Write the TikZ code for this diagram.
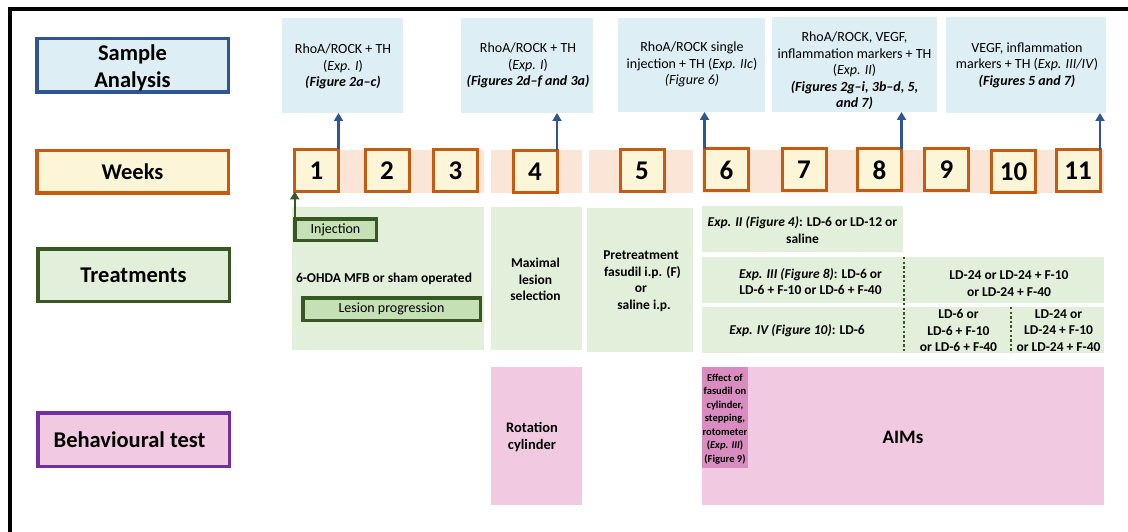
\documentclass[tikz,border=0pt]{standalone}
\usepackage{fontspec}
\setmainfont{Carlito}
\usetikzlibrary{arrows.meta}
\definecolor{sablue}{HTML}{DEEEF5}
\definecolor{bborder}{HTML}{2F5597}
\definecolor{orng}{HTML}{C55A11}
\definecolor{wyel}{HTML}{FDF5D8}
\definecolor{band}{HTML}{FBE5D6}
\definecolor{lgreen}{HTML}{E2EFDA}
\definecolor{dgreen}{HTML}{385723}
\definecolor{mgreen}{HTML}{C5E0B4}
\definecolor{lpink}{HTML}{F1C9E1}
\definecolor{dpink}{HTML}{D98CBF}
\definecolor{purp}{HTML}{7030A0}
\newcommand\myfs[2]{\fontsize{#1}{#2}\selectfont}
\begin{document}
\begin{tikzpicture}[x=1pt,y=-1pt,
  every node/.style={inner sep=0pt, outer sep=0pt},
  hdr/.style={draw, line width=3.5pt, align=center, font=\myfs{22.5}{27}\bfseries},
  sbox/.style={fill=sablue},
  wk/.style={draw=orng, fill=wyel, line width=3pt, minimum width=44pt, minimum height=42pt, font=\myfs{27}{30}\bfseries},
  bandbox/.style={fill=band, minimum height=43pt},
  gbox/.style={fill=lgreen},
  pbox/.style={fill=lpink},
  txt/.style={align=center, font=\myfs{14}{16.5}},
  btxt/.style={align=center, font=\myfs{13.5}{16.5}\bfseries},
  tag/.style={draw=dgreen, fill=mgreen, line width=3.5pt, font=\myfs{14}{16}},
  barrow/.style={draw=bborder, line width=2.6pt, -{Triangle[width=9pt,length=8pt]}},
  garrow/.style={draw=dgreen, line width=2.4pt, -{Triangle[width=9pt,length=8pt]}},
  dotl/.style={draw=dgreen, line width=2.8pt, dash pattern=on 2.4pt off 2.2pt}
]
\useasboundingbox (0,0) rectangle (1128,532);
\fill[white] (0,0) rectangle (1128,532);
\draw[line width=3.5pt] (10,532) -- (10,9) -- (1128,9);

% left headers
\node[hdr, draw=bborder, fill=sablue, minimum width=191.5pt, minimum height=53.5pt] (hSA) at (132.5,65.5) {};
\node[align=center, font=\myfs{22.5}{27}\bfseries] (hSAt) at (132.5,67.5) {Sample\\Analysis};
\node[hdr, draw=orng, fill=wyel, minimum width=191.5pt, minimum height=42.5pt] (hW) at (132.5,172) {Weeks};
\node[hdr, draw=dgreen, fill=lgreen, minimum width=191.5pt, minimum height=52.5pt] (hT) at (133.5,275) {Treatments};
\node[hdr, draw=purp, fill=lpink, minimum width=191.5pt, minimum height=53.5pt] (hB) at (133.5,439.5) {};
\node[font=\myfs{22.5}{27}\bfseries] (hBt) at (129.5,440) {Behavioural test};

% sample analysis boxes
\node[sbox, minimum width=121pt, minimum height=95pt] (s1) at (342.5,65.5) {};
\node[sbox, minimum width=132pt, minimum height=95pt] (s2) at (527,65.5) {};
\node[sbox, minimum width=147pt, minimum height=94pt] (s3) at (691.5,65) {};
\node[sbox, minimum width=165pt, minimum height=95pt] (s4) at (854.5,64.5) {};
\node[sbox, minimum width=160pt, minimum height=96pt] (s5) at (1026,65) {};
\node[txt] (s1t) at (343,66.5) {RhoA/ROCK + TH\\(\textit{Exp. I})\\\textbf{\textit{(Figure 2a--c)}}};
\node[txt] (s2t) at (528,65.5) {RhoA/ROCK + TH\\(\textit{Exp. I})\\\textbf{\textit{(Figures 2d--f and 3a)}}};
\node[txt] (s3t) at (692,64.5) {RhoA/ROCK single\\injection + TH (\textit{Exp. IIc})\\\textit{(Figure 6)}};
\node[txt] (s4t) at (854.5,71) {RhoA/ROCK, VEGF,\\inflammation markers + TH\\(\textit{Exp. II})\\\textbf{\textit{(Figures 2g--i, 3b--d, 5,}}\\\textbf{\textit{and 7)}}};
\node[txt] (s5t) at (1027,65) {VEGF, inflammation\\markers + TH (\textit{Exp. III/IV})\\\textbf{\textit{(Figures 5 and 7)}}};

% week band
\node[bandbox, minimum width=191pt] (b1) at (388.5,171.5) {};
\node[bandbox, minimum width=91pt] (b2) at (536.5,171.5) {};
\node[bandbox, minimum width=104pt] (b3) at (641,171.5) {};
\node[bandbox, minimum width=402pt] (b4) at (903,171.5) {};

% week boxes
\node[wk] (w1) at (316.5,170.5) {1};
\node[wk] (w2) at (387,171) {2};
\node[wk] (w3) at (455.5,170.5) {3};
\node[wk] (w4) at (535,171.5) {4};
\node[wk] (w5) at (642,170.5) {5};
\node[wk] (w6) at (726.5,170) {6};
\node[wk] (w7) at (804,169.5) {7};
\node[wk] (w8) at (879.5,170) {8};
\node[wk] (w9) at (946.5,170) {9};
\node[wk] (w10) at (1013.5,171.5) {10};
\node[wk] (w11) at (1078,171) {11};

% arrows to sample analysis
\draw[barrow] (w1.north east) -- (w1.north east |- s1.south);
\draw[barrow] (w4.north east) -- (w4.north east |- s2.south);
\draw[barrow] (w6.north west) -- (w6.north west |- s3.south);
\draw[barrow] (w8.north east) -- (w8.north east |- s4.south);
\draw[barrow] (w11.north east) -- (w11.north east |- s5.south);

% treatments
\node[gbox, minimum width=192pt, minimum height=143pt] (t1) at (388,278.5) {};
\node[gbox, minimum width=91pt, minimum height=143pt] (t2) at (536.5,278.5) {};
\node[gbox, minimum width=106pt, minimum height=144pt] (t3) at (640,280) {};
\node[gbox, minimum width=201pt, minimum height=46pt] (e2) at (802.5,229) {};
\node[gbox, minimum width=402pt, minimum height=46pt] (e3) at (903,280) {};
\node[gbox, minimum width=402pt, minimum height=46pt] (e4) at (903,330) {};

\node[tag, minimum width=81.5pt, minimum height=21.5pt] (inj) at (335.5,229.5) {Injection};
\node[tag, minimum width=177.5pt, minimum height=22.5pt] (les) at (391.5,309) {Lesion progression};
\draw[garrow] (inj.north west) -- (inj.north west |- w1.south);

\node[btxt] (t1t) at (384,279) {6-OHDA MFB or sham operated};
\node[btxt] (t2t) at (535.5,279.5) {Maximal\\lesion\\selection};
\node[btxt] (t3t) at (641,281) {Pretreatment\\\ fasudil i.p. (F)\\or\\\ \ saline i.p.};
\node[btxt] (e2t) at (802.5,230) {\textit{Exp. II (Figure 4)}: LD-6 or LD-12 or\\saline};
\node[btxt] (e3l) at (810.5,281.5) {\textit{Exp. III (Figure 8)}: LD-6 or\\LD-6 + F-10 or LD-6 + F-40};
\node[btxt] (e3r) at (1009,283.5) {LD-24 or LD-24 + F-10\\or LD-24 + F-40};
\node[btxt] (e4l) at (797,330.5) {\textit{Exp. IV (Figure 10)}: LD-6};
\node[btxt] (e4m) at (958.5,330.5) {LD-6 or\\LD-6 + F-10\\or LD-6 + F-40};
\node[btxt] (e4r) at (1058.5,330.5) {LD-24 or\\LD-24 + F-10\\or LD-24 + F-40};

\coordinate (d1a) at (904,257);
\coordinate (d1b) at (904,353);
\coordinate (d2a) at (1011,307);
\coordinate (d2b) at (1011,353);
\draw[dotl] (d1a) -- (d1b);
\draw[dotl] (d2a) -- (d2b);

% behavioural
\node[pbox, minimum width=91pt, minimum height=138pt] (rot) at (536.5,436) {};
\node[pbox, minimum width=402pt, minimum height=138pt] (aims) at (903,436) {};
\node[fill=dpink, minimum width=46pt, minimum height=101pt] (eff) at (725,417.5) {};
\node[btxt, font=\myfs{14.5}{16.5}\bfseries] (rott) at (532,437) {Rotation\\cylinder};
\node[align=center, font=\myfs{19}{21}\bfseries] (aimst) at (903,437) {AIMs};
\node[align=center, font=\myfs{10.5}{13.5}\bfseries] (efft) at (725,419) {Effect of\\fasudil on\\cylinder,\\stepping,\\rotometer\\(\textit{Exp. III})\\(Figure 9)};
\end{tikzpicture}
\end{document}
